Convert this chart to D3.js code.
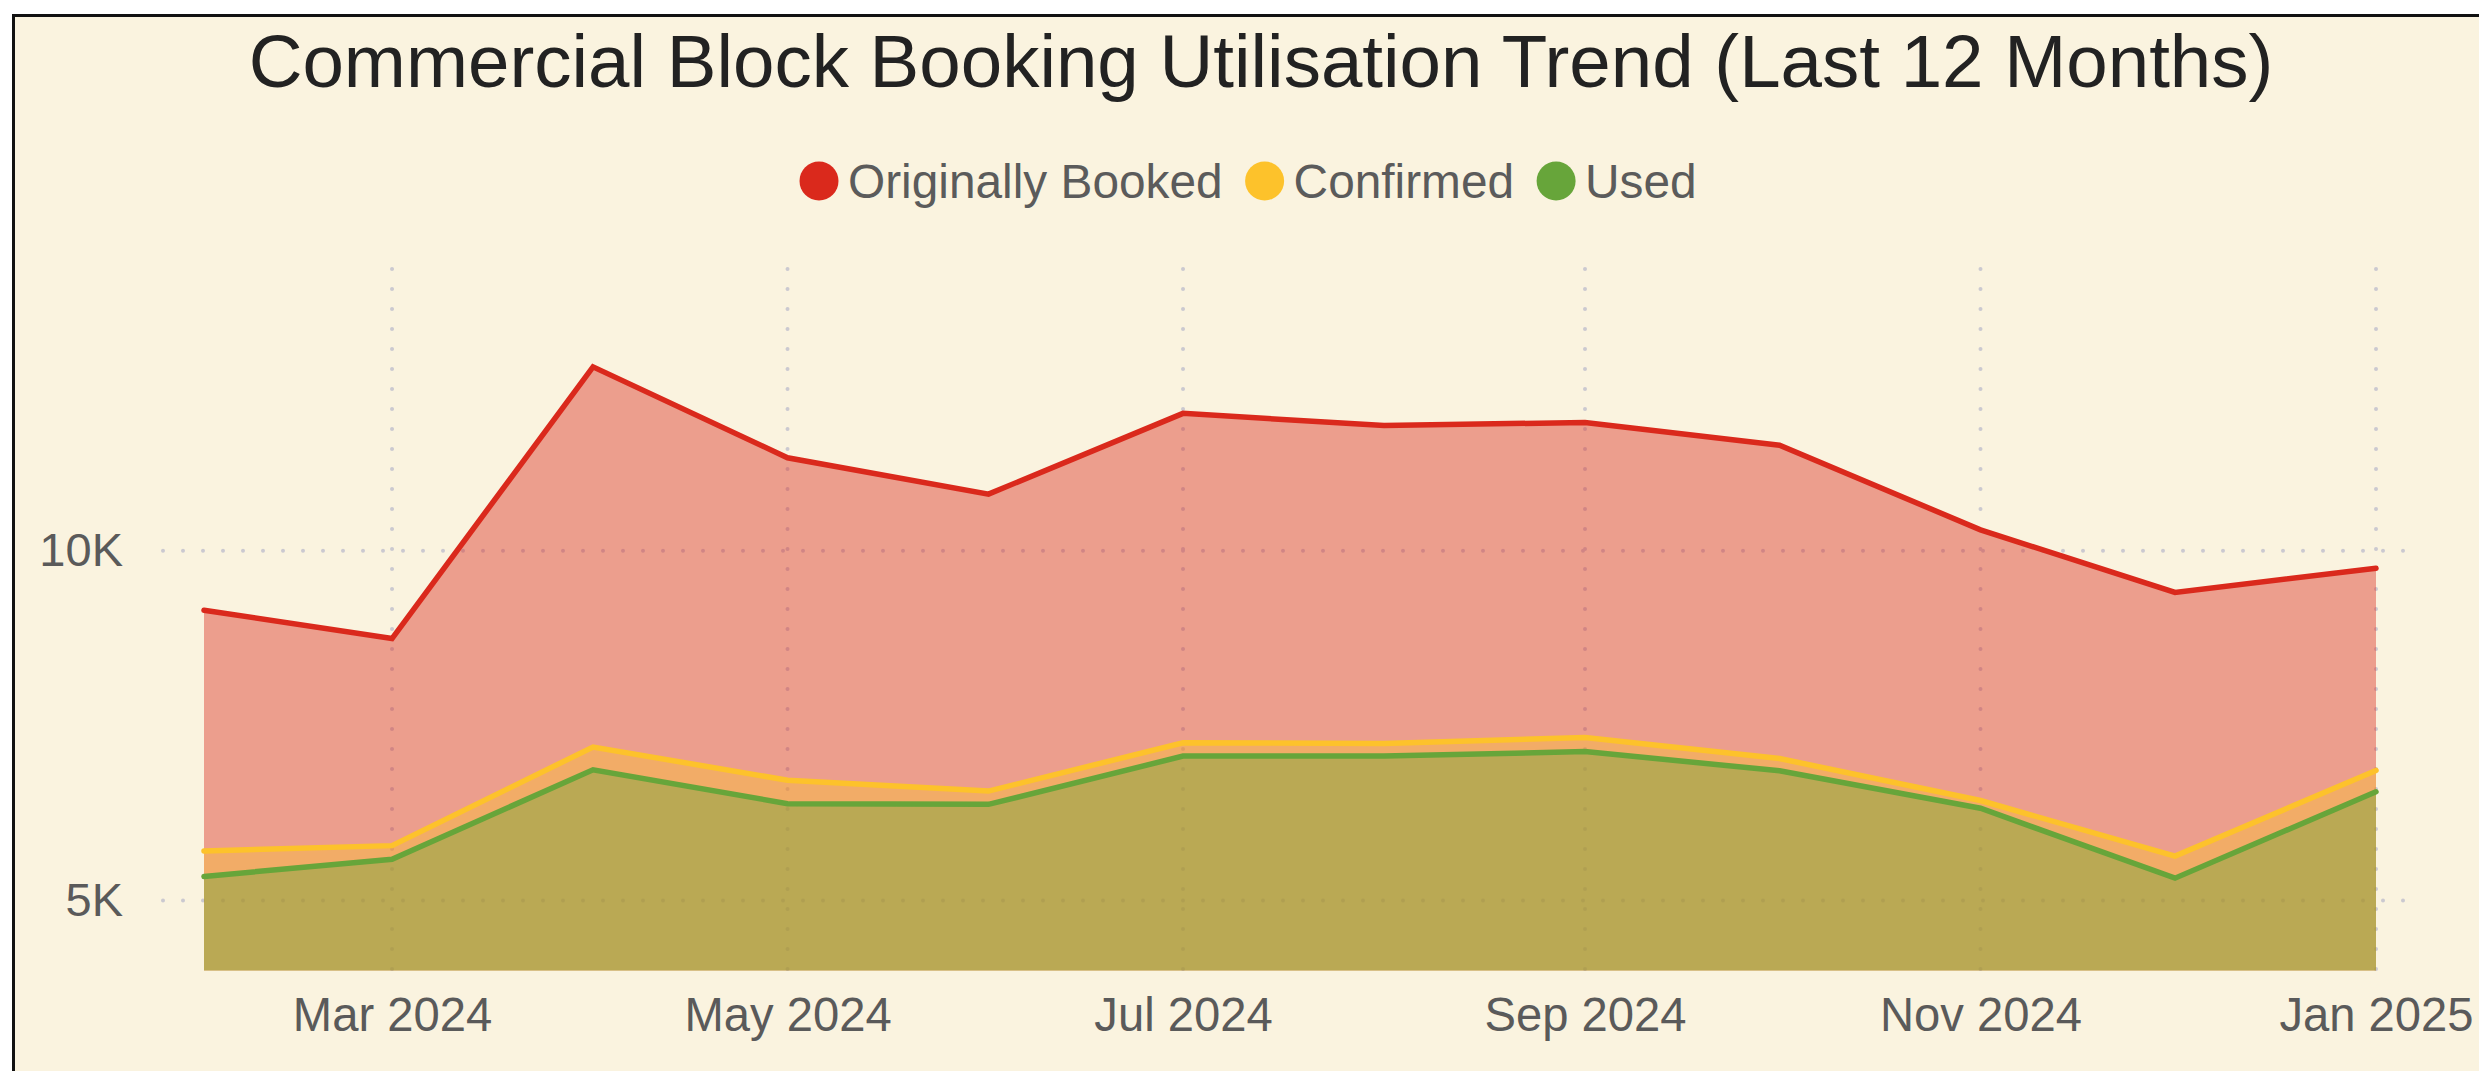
<!DOCTYPE html>
<html>
<head>
<meta charset="utf-8">
<script src="https://cdn.jsdelivr.net/npm/d3@7"></script>
<style>
  html, body { margin: 0; padding: 0; background: #ffffff; overflow: hidden; }
  svg { display: block; font-family: "Liberation Sans", Arial, Helvetica, sans-serif; }
</style>
</head>
<body>
<svg id="chart" width="2479" height="1071"></svg>
<script>
// Monthly block booking figures, Feb 2024 – Jan 2025
const months = ["2024-02", "2024-03", "2024-04", "2024-05", "2024-06", "2024-07",
                "2024-08", "2024-09", "2024-10", "2024-11", "2024-12", "2025-01"];
const originallyBooked = [9150, 8745, 12630, 11330, 10810, 11965, 11790, 11835, 11510, 10300, 9405, 9750];
const confirmed        = [5710, 5785, 7195, 6720, 6565, 7255, 7245, 7330, 7030, 6430, 5635, 6860];
const used             = [5345, 5590, 6870, 6385, 6375, 7065, 7065, 7130, 6855, 6320, 5320, 6555];

const seriesNames = ["Originally Booked", "Confirmed", "Used"];
const seriesColors = ["#da291c", "#fdc22b", "#67a53a"];
const fillOpacity = [0.42, 0.38, 0.4];
const yTickValues = [5000, 10000];
const titleText = "Commercial Block Booking Utilisation Trend (Last 12 Months)";

const parseMonth = d3.timeParse("%Y-%m");
const dates = months.map(parseMonth);
const allSeries = [originallyBooked, confirmed, used].map((vals, i) => ({
  name: seriesNames[i],
  color: seriesColors[i],
  opacity: fillOpacity[i],
  points: vals.map((v, j) => ({ date: dates[j], value: v }))
}));

const svg = d3.select("#chart");

// Card background with a dark frame
svg.append("rect")
  .attr("x", 13.5).attr("y", 15.5)
  .attr("width", 2700).attr("height", 1300)
  .attr("fill", "#faf3df")
  .attr("stroke", "#111111")
  .attr("stroke-width", 3);

// Scales
const x = d3.scaleTime()
  .domain([dates[0], dates[dates.length - 1]])
  .range([204, 2376]);
const y = d3.scaleLinear()
  .domain([4000, 14000])
  .range([970.5, 271]);

const plotTop = 269;
const plotBottom = y.range()[0];
const xTicks = d3.timeMonth.every(2).range(d3.timeMonth.offset(dates[0], 1), d3.timeMonth.offset(dates[dates.length - 1], 1));

// Dotted grid
const grid = svg.append("g").attr("class", "grid")
  .attr("stroke", "#cbc9d0")
  .attr("stroke-width", 4)
  .attr("stroke-linecap", "round")
  .attr("stroke-dasharray", "0 20");
grid.selectAll("line.h").data(yTickValues).join("line")
  .attr("class", "h")
  .attr("x1", 163).attr("x2", 2406)
  .attr("y1", d => y(d)).attr("y2", d => y(d));
grid.selectAll("line.v").data(xTicks).join("line")
  .attr("class", "v")
  .attr("x1", d => x(d)).attr("x2", d => x(d))
  .attr("y1", plotTop).attr("y2", plotBottom + 2);

// Areas, each filled down to the baseline
const area = d3.area()
  .x(d => x(d.date))
  .y0(plotBottom)
  .y1(d => y(d.value));
svg.append("g").selectAll("path").data(allSeries).join("path")
  .attr("d", d => area(d.points))
  .attr("fill", d => d.color)
  .attr("fill-opacity", d => d.opacity);

// Series lines
const line = d3.line()
  .x(d => x(d.date))
  .y(d => y(d.value));
svg.append("g").selectAll("path").data(allSeries).join("path")
  .attr("d", d => line(d.points))
  .attr("fill", "none")
  .attr("stroke", d => d.color)
  .attr("stroke-width", 5.5)
  .attr("stroke-linecap", "round");

// Axes
const xAxis = d3.axisBottom(x)
  .tickValues(xTicks)
  .tickFormat(d3.timeFormat("%b %Y"))
  .tickSize(0)
  .tickPadding(27);
const gx = svg.append("g")
  .attr("transform", `translate(0,${plotBottom})`)
  .call(xAxis);
gx.select(".domain").remove();
gx.selectAll("text")
  .attr("font-size", 47.2)
  .attr("font-family", "Liberation Sans, Arial, sans-serif")
  .attr("fill", "#5a5a5a");

const yAxis = d3.axisLeft(y)
  .tickValues(yTickValues)
  .tickFormat(d => d / 1000 + "K")
  .tickSize(0)
  .tickPadding(40);
const gy = svg.append("g")
  .attr("transform", "translate(163,0)")
  .call(yAxis);
gy.select(".domain").remove();
gy.selectAll("text")
  .attr("font-size", 47)
  .attr("font-family", "Liberation Sans, Arial, sans-serif")
  .attr("fill", "#5a5a5a");

// Title
svg.append("text")
  .attr("x", 1261).attr("y", 87)
  .attr("text-anchor", "middle")
  .attr("font-size", 74.5)
  .attr("fill", "#222222")
  .text(titleText);

// Legend
const legend = svg.append("g").attr("transform", "translate(799,181)");
let cursor = 0;
allSeries.forEach(s => {
  const item = legend.append("g").attr("transform", `translate(${cursor},0)`);
  item.append("circle").attr("cx", 20).attr("cy", 0).attr("r", 19.5).attr("fill", s.color);
  const t = item.append("text")
    .attr("x", 49).attr("y", 0)
    .attr("dy", "0.35em")
    .attr("font-size", 47.8)
    .attr("fill", "#5b5b5b")
    .text(s.name);
  cursor += 49 + t.node().getComputedTextLength() + 22;
});
</script>
</body>
</html>
